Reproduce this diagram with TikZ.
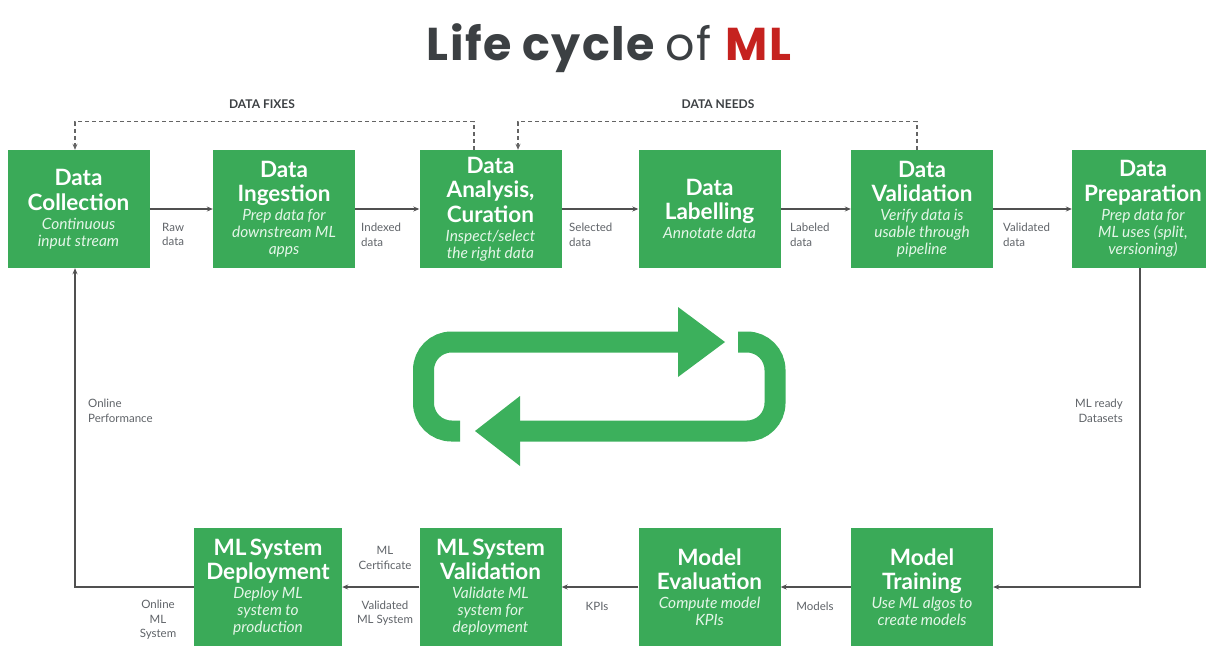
\documentclass[tikz,border=0pt]{standalone}
\usepackage{fontspec}
\setmainfont{Lato}
\newfontfamily\popfont[LetterSpace=3]{Poppins}
\usetikzlibrary{arrows.meta}
\definecolor{gbox}{RGB}{58,170,88}
\definecolor{gcyc}{RGB}{60,176,92}
\definecolor{subc}{RGB}{228,246,232}
\definecolor{linec}{RGB}{80,80,80}
\definecolor{dashc}{RGB}{100,100,100}
\definecolor{labc}{RGB}{95,99,104}
\definecolor{tgray}{RGB}{60,64,67}
\definecolor{tred}{RGB}{197,34,31}
\tikzset{
  stagebox/.style={fill=gbox, minimum width=142pt, minimum height=118pt, inner sep=0pt,
    text width=140pt, align=center, text=white},
  flow/.style={draw=linec, line width=1.2pt, -{Stealth[length=6pt,width=5pt]}},
  fback/.style={draw=dashc, line width=1.2pt, dash pattern=on 4pt off 3pt, -{Stealth[length=6pt,width=5pt]}},
  lbl/.style={font=\fontsize{11.5}{14.5}\selectfont, text=labc, inner sep=0pt},
  hdr/.style={font=\fontsize{12}{14}\selectfont\bfseries, text=tgray, inner sep=0pt},
  cyc/.style={draw=gcyc, line width=21pt, rounded corners=28pt},
}
\newcommand{\stg}[2]{{\fontsize{22.5}{24.5}\selectfont\bfseries #1\par}\vspace{2pt}{\fontsize{15.5}{17}\selectfont\itshape\color{subc}#2\par}}
\begin{document}
\begin{tikzpicture}[x=1pt,y=-1pt]
\useasboundingbox (0,0) rectangle (1206,646);
% title
\node[anchor=base, inner sep=0pt] (title) at (609,60) {\popfont\fontsize{46}{52}\selectfont\color{tgray}\bfseries Life cycle \mdseries of \bfseries\color{tred}ML};
% top row
\node[stagebox] (dc) at (78.5,209) {\stg{Data\\Collection}{Continuous\\input stream}};
\node[stagebox] (di) at (284,209) {\stg{Data\\Ingestion}{Prep data for\\downstream ML\\apps}};
\node[stagebox] (da) at (490.5,209) {\stg{Data\\Analysis,\\Curation}{Inspect/select\\the right data}};
\node[stagebox] (dl) at (709.5,209) {\stg{Data\\Labelling}{Annotate data}};
\node[stagebox] (dv) at (922,209) {\stg{Data\\Validation}{Verify data is\\usable through\\pipeline}};
\node[stagebox] (dp) at (1143,209) {\stg{Data\\Preparation}{Prep data for\\ML uses (split,\\versioning)}};
% bottom row
\node[stagebox, minimum width=148pt] (sd) at (268,587) {\stg{ML System\\Deployment}{Deploy ML\\system to\\production}};
\node[stagebox] (sv) at (490.5,587) {\stg{ML System\\Validation}{Validate ML\\system for\\deployment}};
\node[stagebox] (me) at (709.5,587) {\stg{Model\\Evaluation}{Compute model\\KPIs}};
\node[stagebox] (mt) at (922,587) {\stg{Model\\Training}{Use ML algos to\\create models}};
% flows
\draw[flow] (dc) -- (di);
\draw[flow] (di) -- (da);
\draw[flow] (da) -- (dl);
\draw[flow] (dl) -- (dv);
\draw[flow] (dv) -- (dp);
\draw[flow] ([xshift=-3pt]dp.south) |- (mt.east);
\draw[flow] (mt) -- (me);
\draw[flow] (me) -- (sv);
\draw[flow] (sv) -- (sd);
\draw[flow] (sd.west) -| ([xshift=-3.5pt]dc.south);
% feedback
\draw[fback] ([xshift=-16.5pt]da.north) -- ++(0,-28) -| ([xshift=-3.5pt]dc.north);
\draw[fback] ([xshift=-5pt]dv.north) -- ++(0,-28) -| ([xshift=27.5pt]da.north);
\node[hdr] (hfix) at (262,104) {DATA FIXES};
\node[hdr] (hneed) at (718,104) {DATA NEEDS};
% labels
\node[lbl, anchor=north west, align=left] (l1) at (162,223) {Raw\\data};
\node[lbl, anchor=north west, align=left] (l2) at (361,223) {Indexed\\data};
\node[lbl, anchor=north west, align=left] (l3) at (569,223) {Selected\\data};
\node[lbl, anchor=north west, align=left] (l4) at (790,223) {Labeled\\data};
\node[lbl, anchor=north west, align=left] (l5) at (1003,223) {Validated\\data};
\node[lbl, anchor=north east, align=right] (l6) at (1123,399) {ML ready\\Datasets};
\node[lbl, align=center] (l7) at (815,606) {Models};
\node[lbl, align=center] (l8) at (597,606) {KPIs};
\node[lbl, align=center] (l9) at (385,558) {ML\\Certificate};
\node[lbl, align=center] (l10) at (385,613) {Validated\\ML System};
\node[lbl, anchor=north, align=center] (l11) at (158,600) {Online\\ML\\System};
\node[lbl, anchor=north west, align=left] (l12) at (88,399) {Online\\Performance};
% cycle symbol
\draw[cyc] (460,431) -- (423.5,431) -- (423.5,342) -- (680,342);
\fill[gcyc] (678,307) -- (725,342) -- (678,377) -- cycle;
\draw[cyc] (738,342) -- (775,342) -- (775,431) -- (518,431);
\fill[gcyc] (520,396) -- (475,431) -- (520,466) -- cycle;
\end{tikzpicture}
\end{document}
